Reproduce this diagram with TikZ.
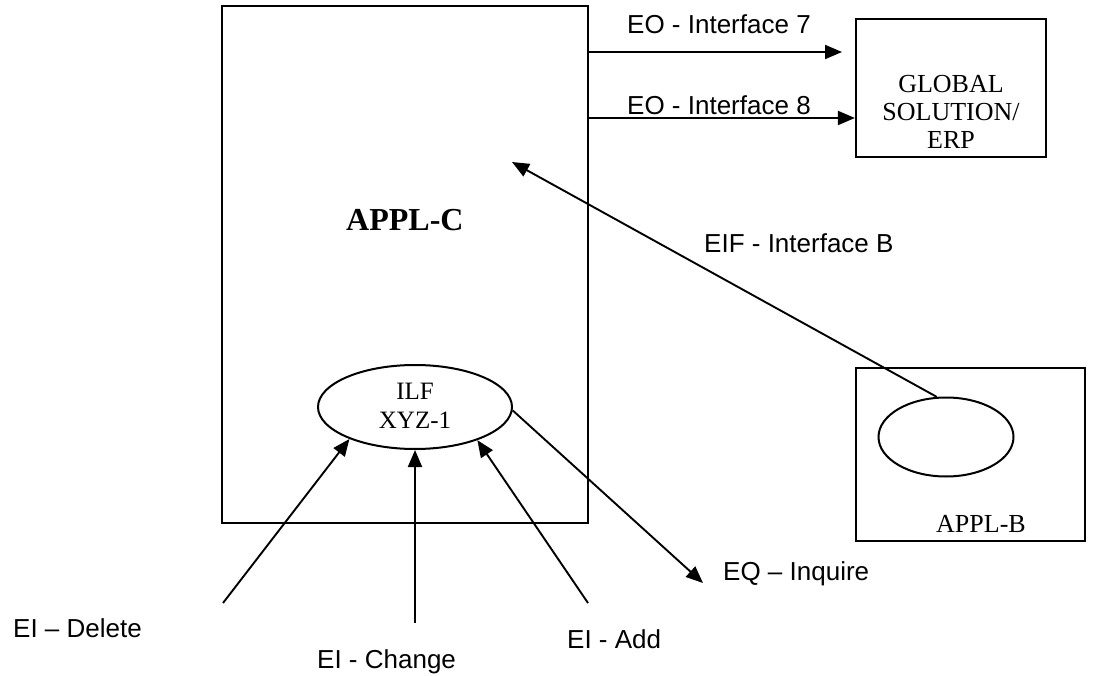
\documentclass[tikz,border=0pt]{standalone}
\usepackage{fontspec}
\setmainfont{Liberation Serif}
\setsansfont{Liberation Sans}
\usetikzlibrary{arrows.meta,shapes.geometric}

\tikzset{
  appbox/.style={
    shape = rectangle,
    draw,
    line width = 2.2pt,
    inner sep = 0pt
  },
  store/.style={
    shape = ellipse,
    draw,
    line width = 2pt,
    inner sep = 0pt
  },
  flow/.style={
    line width = 1.9pt,
    -{Triangle[length=17pt,width=14pt]}
  },
  lbl/.style={
    font = \sffamily\fontsize{26}{30}\selectfont,
    inner sep = 0pt
  },
  boxtxt/.style={
    font = \rmfamily\fontsize{26}{28}\selectfont,
    align = center,
    inner sep = 0pt
  }
}

\begin{document}
\begin{tikzpicture}[x=1pt,y=-1pt]
\useasboundingbox (0,0) rectangle (1105,676);

       \node[appbox, minimum width=366pt, minimum height=517pt] (applc) at (405,264.5) {};
       \node[font=\rmfamily\bfseries\fontsize{32}{36}\selectfont, inner sep=0pt, anchor=base west] (applctxt) at (346,231) {APPL-C};

       \node[appbox, minimum width=190pt, minimum height=138pt] (erp) at (951,88) {};
       \node[boxtxt] (erptxt) at (951,112) {GLOBAL\\SOLUTION/\\ERP};

       \node[appbox, minimum width=229pt, minimum height=173pt] (applb) at (970.5,454.5) {};
       \node[store, minimum width=135pt, minimum height=79pt] (applbdb) at (946,437) {};
       \node[boxtxt, anchor=base west] (applbtxt) at (936,532) {APPL-B};

       \node[store, minimum width=194pt, minimum height=84pt] (ilf) at (415,407) {};
       \node[boxtxt, font=\rmfamily\fontsize{25}{29}\selectfont] (ilftxt) at (415,406) {ILF\\XYZ-1};

       \coordinate (eo7end) at (842,52);
       \draw[flow] (applc.east |- eo7end) -- (eo7end);
       \node[lbl, anchor=base west] (eo7) at (627,34) {EO - Interface 7};

       \draw[flow] (applc.east |- 0,118) -- (erp.west |- 0,118);
       \node[lbl, anchor=base west] (eo8) at (627,115) {EO - Interface 8};

       \coordinate (eifend) at (512,162);
       \draw[flow] (applbdb.103) -- (eifend);
       \node[lbl, anchor=base west] (eif) at (704,253) {EIF - Interface B};

       \coordinate (del) at (223,603);
       \coordinate (chg) at (415,623);
       \coordinate (add) at (588,603);
       \coordinate (inq) at (703,583);

       \draw[flow] (del) -- (ilf.206);
       \draw[flow] (chg) -- (ilf.south);
       \draw[flow] (add) -- (ilf.332);
       \draw[flow] (ilf.358) -- (inq);

       \node[lbl, anchor=base west] (deltxt) at (13,637) {EI – Delete};
       \node[lbl, anchor=base west] (chgtxt) at (317,668) {EI - Change};
       \node[lbl, anchor=base west] (addtxt) at (567,648) {EI - Add};
       \node[lbl, anchor=base west] (inqtxt) at (723,580) {EQ – Inquire};
\end{tikzpicture}
\end{document}
